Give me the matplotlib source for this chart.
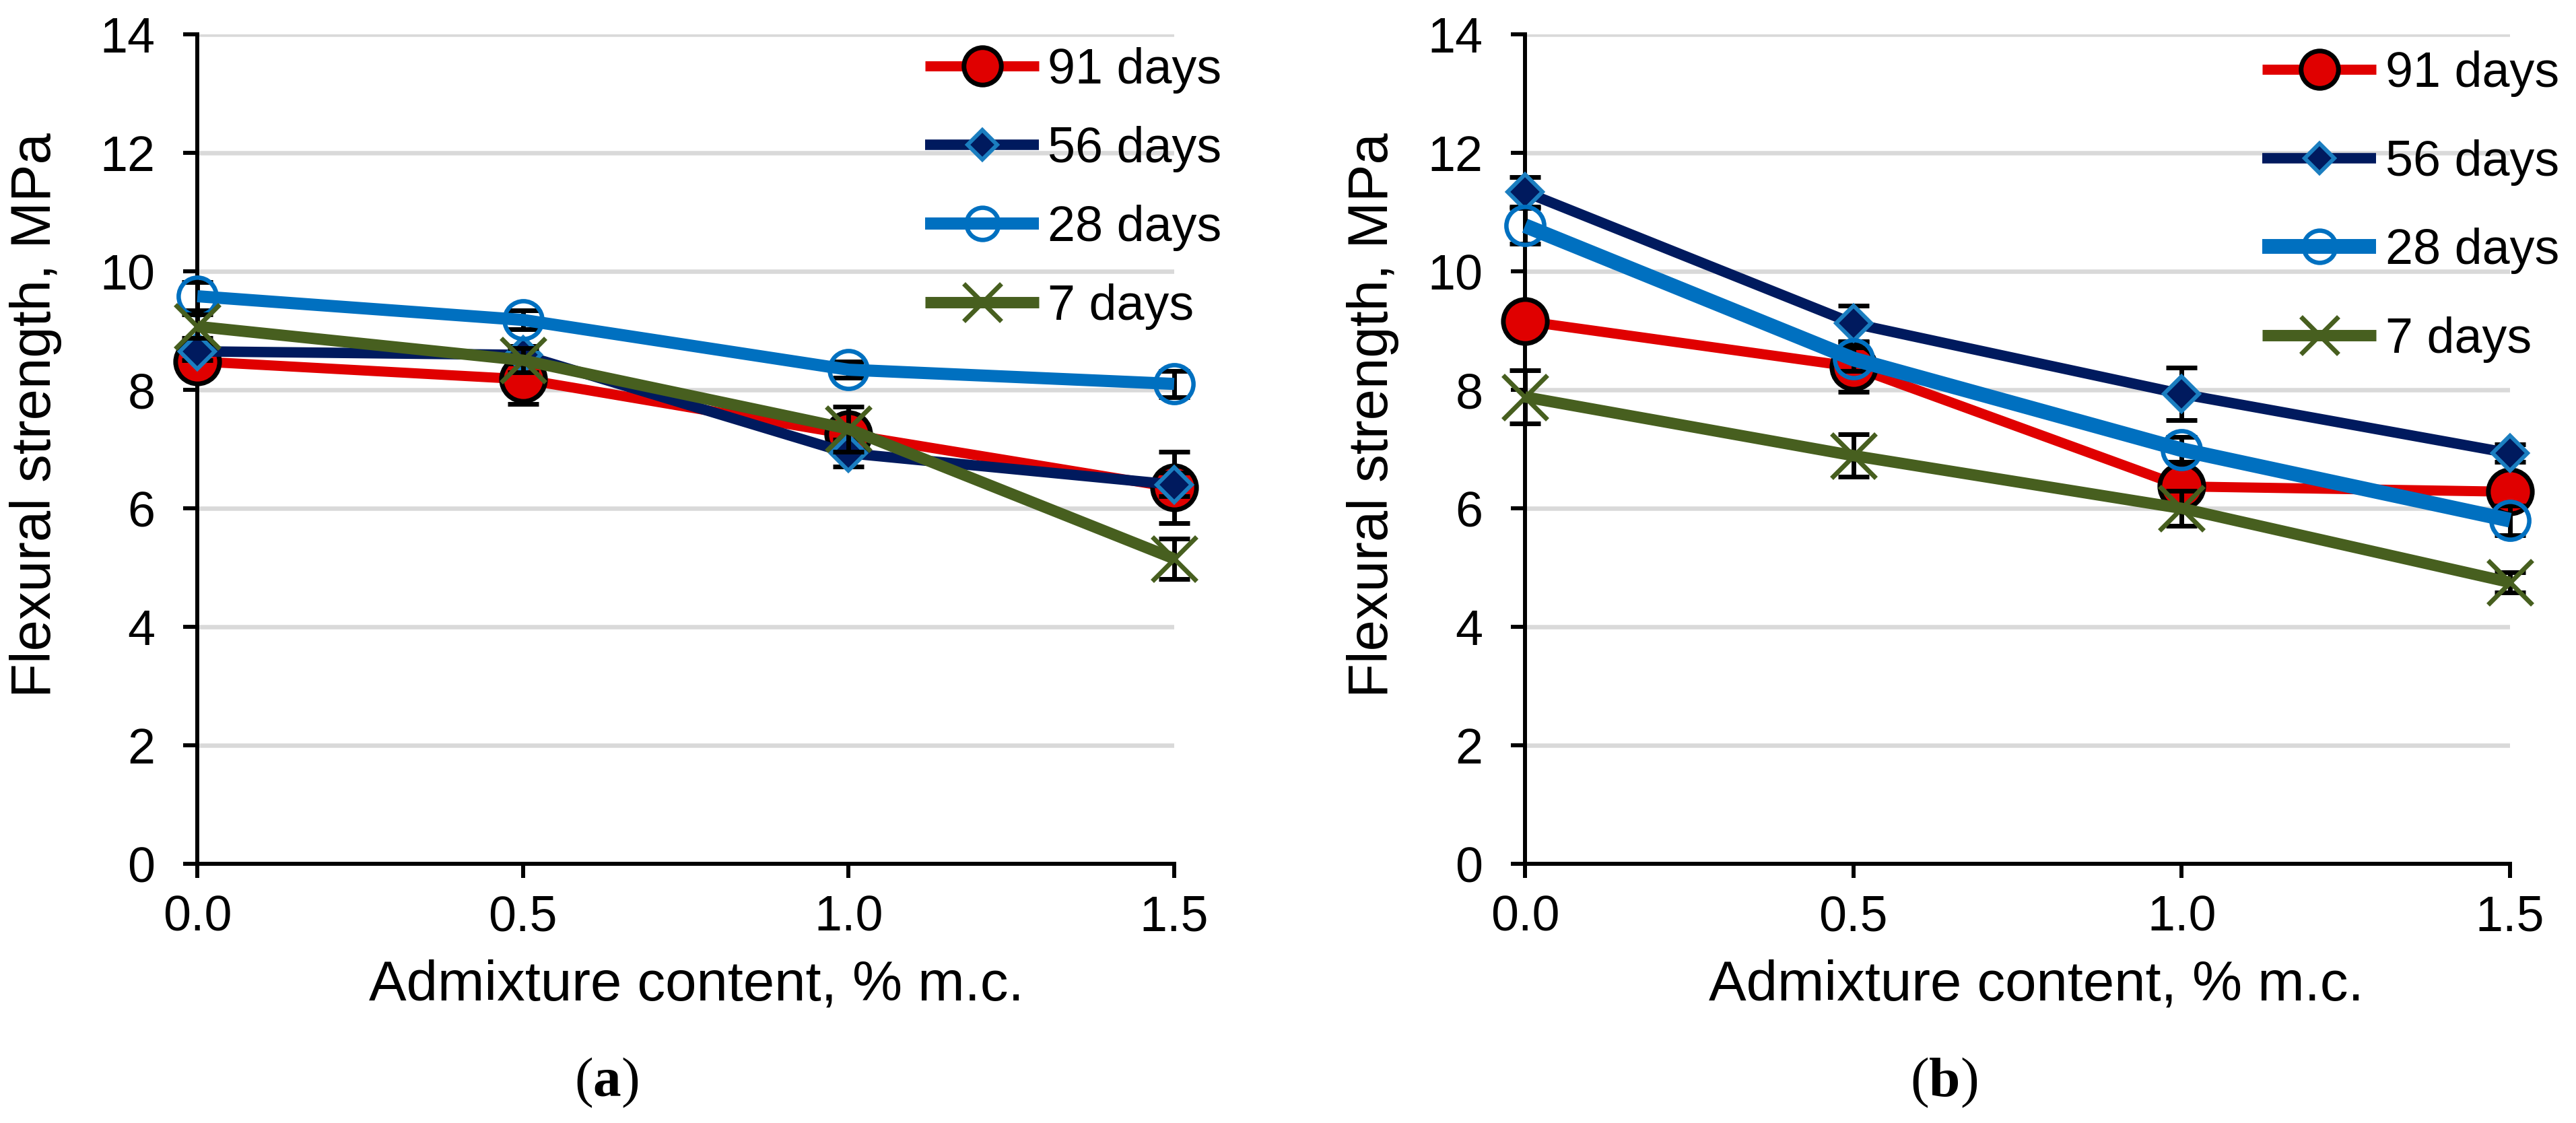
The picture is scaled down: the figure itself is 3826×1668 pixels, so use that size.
import matplotlib
matplotlib.use('Agg')
import matplotlib.pyplot as plt

plt.rcParams['font.family'] = ['Liberation Sans', 'DejaVu Sans']
plt.rcParams['mathtext.fontset'] = 'custom'
plt.rcParams['mathtext.bf'] = 'Liberation Serif:bold'
plt.rcParams['mathtext.rm'] = 'Liberation Serif'

# admixture content, % m.c.
content = [0.0, 0.5, 1.0, 1.5]
labels = ['91 days', '56 days', '28 days', '7 days']

# panel (a)
a_91 = [8.48, 8.18, 7.25, 6.35]
a_56 = [8.65, 8.59, 6.93, 6.40]
a_28 = [9.58, 9.18, 8.34, 8.10]
a_7 = [9.07, 8.50, 7.34, 5.15]
a_91_err = [0.20, 0.42, 0.30, 0.60]
a_56_err = [0.15, 0.15, 0.23, 0.20]
a_28_err = [0.24, 0.16, 0.14, 0.22]
a_7_err = [0.20, 0.20, 0.38, 0.34]

# panel (b)
b_91 = [9.16, 8.39, 6.37, 6.28]
b_56 = [11.34, 9.12, 7.93, 6.93]
b_28 = [10.77, 8.52, 6.99, 5.80]
b_7 = [7.88, 6.89, 6.00, 4.75]
b_91_err = [0.20, 0.42, 0.20, 0.15]
b_56_err = [0.25, 0.30, 0.44, 0.15]
b_28_err = [0.30, 0.20, 0.21, 0.25]
b_7_err = [0.45, 0.36, 0.30, 0.17]

red = '#E00000'
navy = '#001A5E'
blue = '#0070C0'
lblue = '#1B7EC0'
green = '#475F1F'
grid = '#D9D9D9'

FS = 53


def panel(ax, series, errs, blue_lw, leg_x, leg_y, leg_space):
    styles = [
        dict(color=red, lw=10.8, marker='o', ms=47, mfc=red, mec='black', mew=5),
        dict(color=navy, lw=11.2, marker='D', ms=26, mfc=navy, mec=lblue, mew=4.3),
        dict(color=blue, lw=blue_lw, marker='o', ms=40.5, mfc='none', mec=blue, mew=4.7),
        dict(color=green, lw=12.2, marker='x', ms=47, mec=green, mew=5),
    ]
    z = 3
    handles = []
    for y, e, st, lab in zip(series, errs, styles, labels):
        ax.errorbar(content, y, yerr=e, fmt='none', ecolor='black', elinewidth=5,
                    capsize=16.5, capthick=5, zorder=z, clip_on=False)
        ln, = ax.plot(content, y, label=lab, zorder=z + 0.5, clip_on=False,
                      solid_capstyle='butt', solid_joinstyle='round', **st)
        handles.append(ln)
        z += 1
    ax.set_xlim(0, 1.5)
    ax.set_ylim(0, 14)
    ax.set_xticks(content)
    ax.set_xticklabels(['0.0', '0.5', '1.0', '1.5'])
    ax.set_yticks(range(0, 15, 2))
    ax.grid(axis='y', color=grid, lw=4.7)
    ax.set_axisbelow(True)
    for s in ['top', 'right']:
        ax.spines[s].set_visible(False)
    for s in ['left', 'bottom']:
        ax.spines[s].set_linewidth(4.3)
        ax.spines[s].set_zorder(2)
    ax.tick_params(axis='both', direction='out', length=15, width=4.3, labelsize=FS)
    ax.tick_params(axis='x', pad=18)
    ax.tick_params(axis='y', pad=30)
    ax.set_xlabel('Admixture content, % m.c.', fontsize=60)
    ax.set_ylabel('Flexural strength, MPa', fontsize=60)
    ax.legend(handles=handles, loc='upper left', bbox_to_anchor=(leg_x, leg_y),
              bbox_transform=ax.figure.transFigure, frameon=False, fontsize=FS,
              borderpad=0, borderaxespad=0, handlelength=2.3, handletextpad=0.18,
              labelspacing=leg_space, markerscale=0.85)


fig = plt.figure(figsize=(38.26, 16.68), dpi=100)
ax1 = fig.add_axes([0.0766, 0.2308, 0.3792, 0.7386])
ax2 = fig.add_axes([0.5920, 0.2308, 0.3824, 0.7386])

panel(ax1, [a_91, a_56, a_28, a_7], [a_91_err, a_56_err, a_28_err, a_7_err], 13.0,
      0.3591, 0.958, 0.65)
panel(ax2, [b_91, b_56, b_28, b_7], [b_91_err, b_56_err, b_28_err, b_7_err], 15.8,
      0.8782, 0.955, 0.85)

ax1.yaxis.set_label_coords(-0.1385, 0.541)
ax2.yaxis.set_label_coords(-0.128, 0.541)
ax1.xaxis.set_label_coords(0.511, -0.115)
ax2.xaxis.set_label_coords(0.519, -0.115)

fig.text(901 / 3826, 1 - 1608 / 1668, '(' + r'$\mathbf{a}$' + ')', fontsize=60,
         family='Liberation Serif', ha='center', va='center')
fig.text(2887 / 3826, 1 - 1608 / 1668, '(' + r'$\mathbf{b}$' + ')', fontsize=60,
         family='Liberation Serif', ha='center', va='center')

fig.savefig('out.png', dpi=100)
